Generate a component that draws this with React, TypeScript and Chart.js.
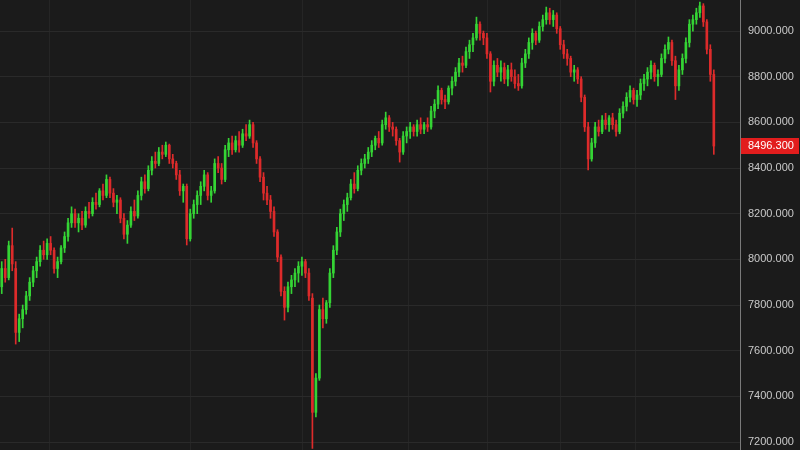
import React, { useEffect, useRef } from "react";
import { Chart, registerables } from "chart.js";

Chart.register(...registerables);

const opens = [7880,7960,7920,8060,7960,7680,7740,7780,7840,7900,7950,7990,8040,8020,8070,8040,7960,7990,8050,8100,
8160,8200,8160,8180,8150,8210,8200,8250,8240,8300,8280,8350,8290,8250,8260,8180,8110,8150,8210,8190,
8280,8340,8310,8390,8430,8420,8470,8460,8500,8440,8420,8370,8300,8320,8090,8200,8240,8280,8320,8370,
8280,8300,8420,8400,8350,8480,8510,8480,8520,8500,8550,8540,8590,8510,8440,8360,8290,8260,8210,8120,
8010,7860,7790,7880,7910,7940,7970,7990,7940,7830,7330,7480,7780,7740,7810,7940,8040,8120,8200,8240,
8270,8330,8310,8390,8420,8440,8470,8500,8530,8510,8590,8620,8580,8570,8520,8470,8540,8560,8580,8560,
8590,8570,8590,8580,8650,8680,8740,8700,8690,8750,8780,8820,8860,8850,8910,8940,8970,9030,8990,8970,
8900,8780,8850,8820,8840,8790,8830,8800,8770,8760,8860,8900,8950,8990,8960,9020,9050,9080,9050,9070,
9010,8940,8900,8880,8820,8830,8790,8710,8580,8440,8510,8580,8560,8610,8590,8620,8590,8560,8640,8670,
8710,8740,8700,8720,8770,8790,8820,8850,8800,8810,8880,8920,8950,8870,8760,8830,8880,8950,9030,9050,
9080,9110,9040,8920,8810];
const highs = [7990,8000,8080,8137,7990,7760,7800,7860,7920,7970,8010,8060,8080,8090,8100,8050,8010,8060,8120,8180,
8230,8220,8200,8210,8230,8250,8270,8290,8310,8330,8370,8360,8310,8280,8270,8200,8170,8230,8260,8300,
8360,8370,8410,8450,8470,8490,8500,8514,8505,8460,8430,8390,8330,8330,8220,8260,8300,8340,8390,8380,
8320,8440,8450,8420,8500,8530,8540,8540,8560,8570,8590,8610,8600,8520,8450,8380,8320,8280,8230,8130,
8020,7880,7900,7930,7960,7990,8010,8000,7960,7850,7500,7800,7830,7820,7960,8060,8140,8220,8260,8290,
8350,8380,8410,8440,8460,8490,8520,8540,8560,8610,8645,8630,8600,8580,8530,8560,8580,8600,8590,8610,
8620,8600,8620,8670,8700,8760,8750,8720,8760,8800,8840,8880,8890,8930,8960,8990,9061,9040,9000,8990,
8910,8870,8880,8870,8860,8850,8860,8830,8810,8880,8920,8970,9010,9000,9040,9070,9105,9100,9090,9080,
9020,8960,8920,8890,8850,8840,8800,8720,8600,8530,8600,8610,8630,8640,8630,8640,8610,8660,8690,8730,
8760,8750,8740,8790,8810,8840,8870,8860,8830,8900,8940,8974,8960,8890,8850,8900,8970,9050,9070,9100,
9127,9120,9050,8940,8830];
const lows = [7850,7900,7910,7950,7629,7640,7700,7760,7820,7880,7920,7970,8000,8000,8020,7940,7920,7980,8030,8080,
8140,8140,8120,8130,8140,8180,8190,8220,8230,8260,8270,8270,8230,8200,8160,8090,8070,8140,8170,8180,
8260,8290,8300,8370,8400,8410,8440,8450,8420,8400,8350,8280,8250,8063,8080,8180,8200,8240,8300,8260,
8250,8290,8380,8330,8340,8450,8460,8470,8470,8490,8520,8530,8490,8420,8340,8260,8240,8180,8100,7990,
7840,7734,7770,7850,7880,7900,7930,7920,7820,7172,7310,7470,7700,7720,7790,7920,8020,8100,8170,8210,
8260,8290,8300,8370,8400,8420,8450,8480,8490,8500,8570,8560,8540,8500,8426,8460,8510,8530,8540,8540,
8550,8550,8560,8570,8620,8660,8680,8660,8680,8720,8760,8800,8820,8840,8880,8910,8960,8960,8940,8880,
8733,8760,8800,8780,8770,8760,8780,8750,8740,8750,8840,8880,8920,8940,8950,9000,9030,9030,9020,8990,
8920,8880,8850,8800,8780,8770,8690,8560,8392,8430,8490,8540,8550,8570,8560,8570,8540,8550,8620,8650,
8690,8680,8670,8700,8740,8760,8790,8780,8760,8800,8860,8900,8850,8700,8740,8810,8860,8930,9000,9030,
9060,9020,8900,8780,8460];
const closes = [7960,7920,8060,7980,7680,7740,7780,7840,7900,7950,7990,8040,8020,8070,8040,7960,7990,8050,8100,8160,
8200,8160,8180,8150,8210,8200,8250,8240,8300,8280,8350,8290,8250,8260,8180,8110,8150,8210,8190,8280,
8340,8310,8390,8430,8420,8470,8460,8500,8440,8420,8370,8300,8320,8090,8200,8240,8280,8320,8370,8280,
8300,8420,8400,8350,8480,8510,8480,8520,8500,8550,8540,8590,8510,8440,8360,8290,8260,8210,8120,8010,
7860,7790,7880,7910,7940,7970,7990,7940,7840,7330,7480,7780,7740,7810,7940,8040,8120,8200,8240,8270,
8330,8310,8390,8420,8440,8470,8500,8530,8510,8590,8620,8580,8570,8520,8470,8540,8560,8580,8560,8590,
8570,8590,8580,8650,8680,8740,8700,8690,8750,8780,8820,8860,8850,8910,8940,8970,9030,8990,8970,8900,
8780,8850,8820,8840,8790,8830,8800,8770,8760,8860,8900,8950,8990,8960,9020,9050,9080,9050,9070,9010,
8940,8900,8880,8820,8830,8790,8710,8580,8440,8510,8580,8560,8610,8590,8620,8590,8560,8640,8670,8710,
8740,8700,8720,8770,8790,8820,8850,8800,8810,8880,8920,8950,8870,8760,8830,8880,8950,9030,9050,9080,
9110,9040,8920,8810,8496.3];

const totalSlots = 212;
const yTicks = [7200, 7400, 7600, 7800, 8000, 8200, 8400, 8600, 8800, 9000];
const vGridIdx = [13.5, 54, 86, 116.5, 139, 160, 181.5];

const BG = "#1b1b1b";
const UP = "#35d435";
const DOWN = "#dd2b2b";

export default function App() {
  const ref = useRef<HTMLCanvasElement | null>(null);
  useEffect(() => {
    if (!ref.current) return;
    const labels = Array.from({ length: totalSlots }, (_, i) => String(i));
    const colors = closes.map((c, i) => (c >= opens[i] ? UP : DOWN));
    const wickData = highs.map((h, i) => [lows[i], h]);
    const bodyData = closes.map((c, i) => [Math.min(opens[i], c), Math.max(opens[i], c)]);
    const lastClose = closes[closes.length - 1];

    const bgPlugin = {
      id: "bg",
      beforeDraw(chart: any) {
        const { ctx, width, height } = chart;
        ctx.save();
        ctx.fillStyle = BG;
        ctx.fillRect(0, 0, width, height);
        const xs = chart.scales.x;
        const area = chart.chartArea;
        ctx.strokeStyle = "#252525";
        ctx.lineWidth = 1;
        vGridIdx.forEach((v) => {
          const px = Math.round(xs.getPixelForValue(v)) + 0.5;
          ctx.beginPath();
          ctx.moveTo(px, area.top);
          ctx.lineTo(px, area.bottom);
          ctx.stroke();
        });
        ctx.restore();
      },
    };
    const lastPlugin = {
      id: "lastPrice",
      afterDraw(chart: any) {
        const { ctx } = chart;
        const ys = chart.scales.y;
        const y = ys.getPixelForValue(lastClose);
        const x0 = chart.chartArea.right + 1;
        ctx.save();
        ctx.fillStyle = "#e21d1d";
        ctx.fillRect(x0, Math.round(y) - 8, 58, 16);
        ctx.fillStyle = "#ffffff";
        ctx.font = "11px 'Liberation Sans', Arial, sans-serif";
        ctx.textBaseline = "middle";
        ctx.textAlign = "left";
        ctx.fillText(lastClose.toFixed(3), x0 + 7, Math.round(y));
        ctx.restore();
      },
    };

    const chart = new Chart(ref.current, {
      type: "bar",
      data: {
        labels,
        datasets: [
          {
            data: wickData as any,
            backgroundColor: colors,
            barThickness: 1,
            grouped: false,
            borderWidth: 0,
          } as any,
          {
            data: bodyData as any,
            backgroundColor: colors,
            barThickness: 2,
            grouped: false,
            borderWidth: 0,
          } as any,
        ],
      },
      options: {
        animation: false,
        responsive: true,
        maintainAspectRatio: false,
        layout: { padding: 0 },
        plugins: { legend: { display: false }, tooltip: { enabled: false } },
        scales: {
          x: { display: false, offset: true },
          y: {
            position: "right",
            min: 7165,
            max: 9136,
            afterBuildTicks: (scale: any) => {
              scale.ticks = yTicks.map((v) => ({ value: v }));
            },
            afterFit: (scale: any) => {
              scale.width = 60;
              scale.paddingTop = 0;
              scale.paddingBottom = 0;
            },
            grid: { color: "#2a2a2a", drawTicks: false },
            border: { display: true, color: "#7a7a7a", width: 1 },
            ticks: {
              color: "#c9c9c9",
              padding: 8,
              font: { size: 11, family: "'Liberation Sans', Arial, sans-serif" },
              callback: (v: any) => Number(v).toFixed(3),
            },
          },
        },
      },
      plugins: [bgPlugin, lastPlugin],
    });
    return () => chart.destroy();
  }, []);

  return (
    <div style={{ position: "fixed", left: 0, top: 0, width: 800, height: 450, background: BG }}>
      <canvas ref={ref} />
    </div>
  );
}
